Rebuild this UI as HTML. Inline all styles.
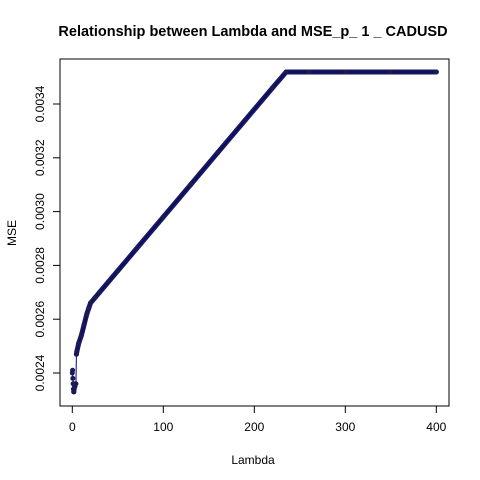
<!DOCTYPE html>
<html><head><meta charset="utf-8"><style>
body{margin:0;background:#fff;}
svg{display:block;font-family:"Liberation Sans",Arial,sans-serif;}
</style></head><body>
<svg width="480" height="480" viewBox="0 0 480 480">
<text x="253" y="36" text-anchor="middle" font-size="14.5" font-weight="bold">Relationship between Lambda and MSE_p_ 1 _ CADUSD</text>
<rect x="60" y="59" width="389" height="347" fill="none" stroke="#000"/>
<g id="xaxis"></g>
<g id="yaxis"></g>
<g id="series"></g>
<text x="253" y="464" text-anchor="middle" font-size="12">Lambda</text>
<text x="16" y="233" text-anchor="middle" font-size="12" transform="rotate(-90 16 233)">MSE</text>
</svg>
<script>
const xTicks=[0,100,200,300,400];
const yTicks=[0.0024,0.0026,0.0028,0.0030,0.0032,0.0034];
const yTickLabels=["0.0024","0.0026","0.0028","0.0030","0.0032","0.0034"];
const lambdas=[0,0.3,0.6,0.9,1.2,1.5,1.8,2.1,2.5,3,3.5,4,4.5,5,7,10,13,16,18,20,25,30,40,50,70,100,130,160,190,220,235,260,300,350,400];
const mse=[0.00240,0.00241,0.00238,0.00236,0.00234,0.00233,0.00233,0.00234,0.00235,0.00235,0.00236,0.00236,0.00247,0.00248,0.00251,0.00254,0.00258,0.00262,0.00264,0.00266,0.00268,0.00270,0.00274,0.00278,0.00286,0.00298,0.00310,0.00322,0.00334,0.00346,0.003519,0.003519,0.003519,0.003519,0.003519];
const NS="http://www.w3.org/2000/svg";
const X=v=>72.3+v*0.91;
const Y=v=>373-(v-0.0024)/0.0002*53.8;
function mk(t,a,p){const e=document.createElementNS(NS,t);for(const k in a)e.setAttribute(k,a[k]);p.appendChild(e);return e;}
const xa=document.getElementById('xaxis'),ya=document.getElementById('yaxis'),se=document.getElementById('series');
mk('line',{x1:X(xTicks[0]),x2:X(xTicks[xTicks.length-1]),y1:406,y2:406,stroke:'#000'},xa);
xTicks.forEach(t=>{
 const l=mk('line',{x1:X(t),x2:X(t),y1:406,y2:413,stroke:'#000'},xa);
 
 
 const tx=mk('text',{x:X(t),y:431,'text-anchor':'middle','font-size':12},xa);
 tx.textContent=t;
 
 
});
mk('line',{x1:60,x2:60,y1:Y(yTicks[0]),y2:Y(yTicks[yTicks.length-1]),stroke:'#000'},ya);
yTicks.forEach((t,i)=>{
 const l=mk('line',{x1:53,x2:60,y1:Y(t),y2:Y(t),stroke:'#000'},ya);
 
 
 const tx=mk('text',{x:0,y:0,'text-anchor':'middle','font-size':12,transform:`translate(44 ${Y(t)}) rotate(-90)`},ya);
 tx.textContent=yTickLabels[i];
 
 
});
const pts=lambdas.map((l,i)=>X(l)+','+Y(mse[i])).join(' ');
const thick=mk('polyline',{points:lambdas.slice(12).map((l,i)=>X(l)+','+Y(mse[i+12])).join(' '),fill:'none',stroke:'#1a1a55','stroke-width':5,'stroke-linejoin':'round','stroke-linecap':'round'},se);


const thin=mk('polyline',{points:pts,fill:'none',stroke:'#00008b','stroke-width':1},se);


lambdas.forEach((l,i)=>{
 const c=mk('circle',{cx:X(l),cy:Y(mse[i]),r:2.5,fill:'#1a1a55'},se);
 
 
});
</script>
</body></html>
